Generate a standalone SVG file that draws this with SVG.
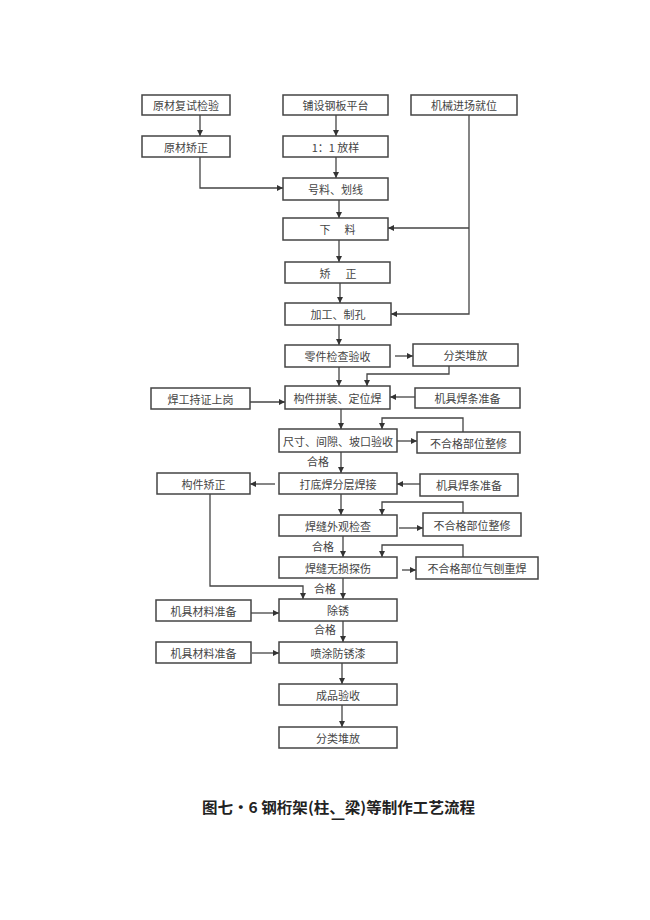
<svg xmlns="http://www.w3.org/2000/svg" width="650" height="920" viewBox="0 0 650 920">
<defs>
<marker id="ah" viewBox="0 0 10 10" refX="10" refY="5" markerWidth="7" markerHeight="6" markerUnits="userSpaceOnUse" orient="auto">
<path d="M0,0 L10,5 L0,10 z" fill="#333"/>
</marker>
<clipPath id="cut"><rect x="0" y="0" width="650" height="820"/></clipPath>
<style>
.b{fill:#fff;stroke:#444;stroke-width:1.5}
.t{font-family:"Noto Sans CJK SC","Noto Sans",sans-serif;font-size:11px;fill:#444;text-anchor:middle;dominant-baseline:central}
.c{fill:none;stroke:#444;stroke-width:1.3;marker-end:url(#ah)}
.l{fill:none;stroke:#444;stroke-width:1.3}
.ttl{font-family:"Noto Sans CJK SC","Noto Sans",sans-serif;font-size:15px;font-weight:bold;fill:#222}
</style>
</defs>
<rect width="650" height="920" fill="#fff"/>
<g id="connectors">
<path class="c" d="M200,115 V136"/>
<path class="c" d="M336,115 V136"/>
<path class="c" d="M336,157 V178"/>
<path class="c" d="M200,157 V188 H283"/>
<path class="c" d="M339,200 V218"/>
<path class="c" d="M469,115 V314 H391"/>
<path class="c" d="M469,228 H388"/>
<path class="c" d="M339,240 V262"/>
<path class="c" d="M340,283 V303"/>
<path class="c" d="M339,325 V345"/>
<path class="c" d="M395,356 H413"/>
<path class="c" d="M449,366 V374 H367 V386"/>
<path class="c" d="M339,367 V386"/>
<path class="c" d="M250,402 H285"/>
<path class="c" d="M415,397 H390"/>
<path class="c" d="M341,409 V429"/>
<path class="c" d="M397,441 H417"/>
<path class="c" d="M463,432 V418 H382 V429"/>
<path class="c" d="M341,452 V473"/>
<path class="c" d="M275,484 H250"/>
<path class="c" d="M420,484 H397"/>
<path class="c" d="M341,494 V515"/>
<path class="c" d="M399,528 H423"/>
<path class="c" d="M463,513 V502 H382 V515"/>
<path class="c" d="M343,536 V557"/>
<path class="c" d="M402,570 H416"/>
<path class="c" d="M463,557 V545 H382 V557"/>
<path class="c" d="M210,494 V586 H303 V599"/>
<path class="c" d="M343,578 V599"/>
<path class="c" d="M251,613 H279"/>
<path class="c" d="M343,621 V642"/>
<path class="c" d="M252,653 H279"/>
<path class="c" d="M342,663 V684"/>
<path class="c" d="M342,705 V727"/>
<text class="t" x="318" y="461">合格</text>
<text class="t" x="323" y="546">合格</text>
<text class="t" x="325" y="588">合格</text>
<text class="t" x="325" y="629">合格</text>
</g>
<g id="n1"><rect class="b" x="142" y="95" width="88" height="20"/><text class="t" x="186" y="105">原材复试检验</text></g>
<g id="n2"><rect class="b" x="283" y="95" width="105" height="20"/><text class="t" x="335.5" y="105">铺设钢板平台</text></g>
<g id="n3"><rect class="b" x="411" y="95" width="106" height="20"/><text class="t" x="464" y="105">机械进场就位</text></g>
<g id="n4"><rect class="b" x="142" y="136" width="88" height="21"/><text class="t" x="186" y="146.5">原材矫正</text></g>
<g id="n5"><rect class="b" x="283" y="136" width="105" height="21"/><text class="t" x="335.5" y="146.5">1：1 放样</text></g>
<g id="n6"><rect class="b" x="283" y="178" width="105" height="22"/><text class="t" x="335.5" y="189">号料、划线</text></g>
<g id="n7"><rect class="b" x="283" y="218" width="105" height="22"/><text class="t" x="325" y="229">下</text><text class="t" x="350" y="229">料</text></g>
<g id="n8"><rect class="b" x="285" y="262" width="105" height="21"/><text class="t" x="325" y="272.5">矫</text><text class="t" x="351" y="272.5">正</text></g>
<g id="n9"><rect class="b" x="285" y="303" width="106" height="22"/><text class="t" x="338" y="314">加工、制孔</text></g>
<g id="n10"><rect class="b" x="285" y="345" width="105" height="22"/><text class="t" x="337.5" y="356">零件检查验收</text></g>
<g id="n11"><rect class="b" x="413" y="344" width="105" height="22"/><text class="t" x="465.5" y="355">分类堆放</text></g>
<g id="n12"><rect class="b" x="151" y="388" width="99" height="21"/><text class="t" x="200.5" y="398.5">焊工持证上岗</text></g>
<g id="n13"><rect class="b" x="285" y="386" width="105" height="23"/><text class="t" x="337.5" y="397.5">构件拼装、定位焊</text></g>
<g id="n14"><rect class="b" x="415" y="388" width="105" height="20"/><text class="t" x="467.5" y="398">机具焊条准备</text></g>
<g id="n15"><rect class="b" x="279" y="429" width="118" height="23"/><text class="t" x="338" y="440.5">尺寸、间隙、坡口验收</text></g>
<g id="n16"><rect class="b" x="417" y="432" width="103" height="21"/><text class="t" x="468.5" y="442.5">不合格部位整修</text></g>
<g id="n17"><rect class="b" x="157" y="473" width="93" height="21"/><text class="t" x="203.5" y="483.5">构件矫正</text></g>
<g id="n18"><rect class="b" x="279" y="473" width="118" height="21"/><text class="t" x="338" y="483.5">打底焊分层焊接</text></g>
<g id="n19"><rect class="b" x="420" y="474" width="98" height="22"/><text class="t" x="469" y="485">机具焊条准备</text></g>
<g id="n20"><rect class="b" x="279" y="515" width="118" height="21"/><text class="t" x="338" y="525.5">焊缝外观检查</text></g>
<g id="n21"><rect class="b" x="423" y="513" width="98" height="23"/><text class="t" x="472" y="524.5">不合格部位整修</text></g>
<g id="n22"><rect class="b" x="279" y="557" width="118" height="21"/><text class="t" x="338" y="567.5">焊缝无损探伤</text></g>
<g id="n23"><rect class="b" x="416" y="557" width="122" height="22"/><text class="t" x="477" y="568">不合格部位气刨重焊</text></g>
<g id="n24"><rect class="b" x="279" y="599" width="118" height="22"/><text class="t" x="338" y="610">除锈</text></g>
<g id="n25"><rect class="b" x="156" y="600" width="95" height="21"/><text class="t" x="203.5" y="610.5">机具材料准备</text></g>
<g id="n26"><rect class="b" x="279" y="642" width="118" height="21"/><text class="t" x="338" y="652.5">喷涂防锈漆</text></g>
<g id="n27"><rect class="b" x="156" y="642" width="95" height="21"/><text class="t" x="203.5" y="652.5">机具材料准备</text></g>
<g id="n28"><rect class="b" x="279" y="684" width="118" height="21"/><text class="t" x="338" y="694.5">成品验收</text></g>
<g id="n29"><rect class="b" x="279" y="727" width="118" height="21"/><text class="t" x="338" y="737.5">分类堆放</text></g>
<g id="title">
<text class="ttl" x="202" y="813" textLength="273" lengthAdjust="spacingAndGlyphs">图七·6 钢桁架(柱、梁)等制作工艺流程</text>
<text class="ttl" x="338" y="831" text-anchor="middle" clip-path="url(#cut)">图</text>
</g>
</svg>
